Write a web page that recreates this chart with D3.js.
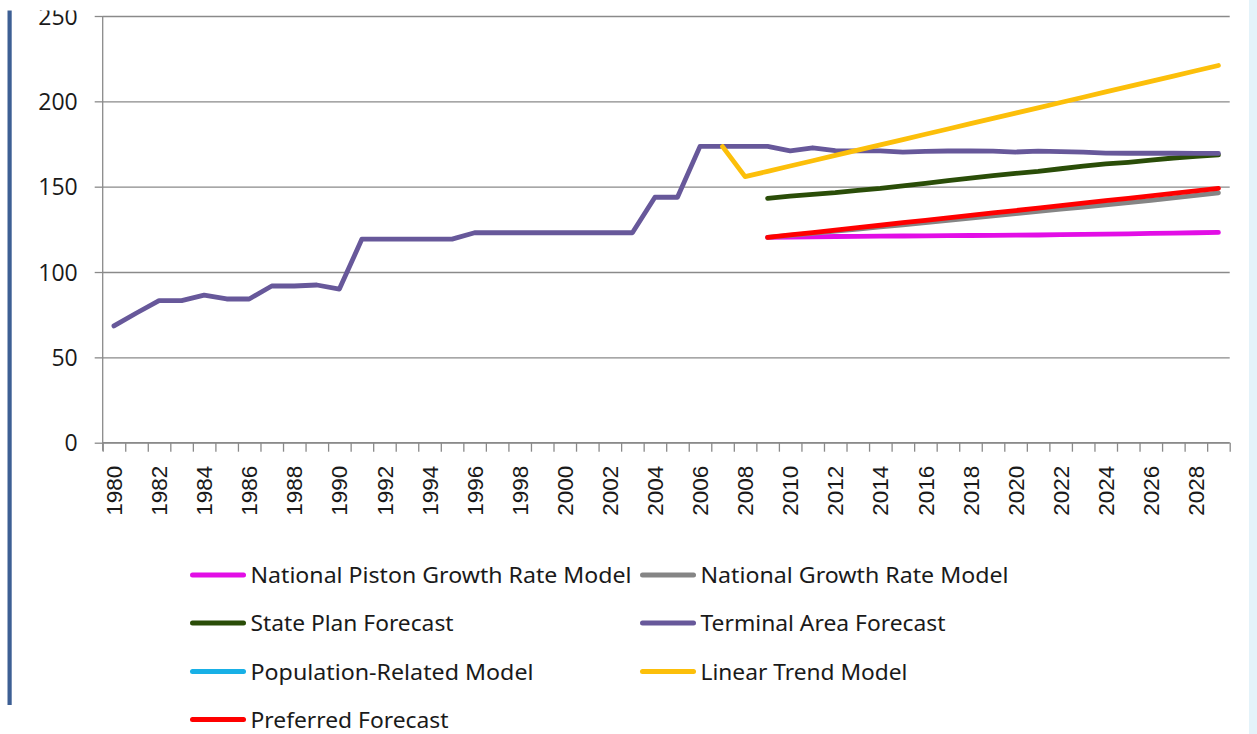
<!DOCTYPE html>
<html>
<head>
<meta charset="utf-8">
<script src="https://cdn.jsdelivr.net/npm/d3@7/dist/d3.min.js"></script>
<style>
  html, body { margin: 0; padding: 0; background: #ffffff; }
  svg { display: block; }
</style>
</head>
<body>
<svg id="chart" width="1257" height="734"></svg>
<script>
// ---------------- DATA ----------------
const years = d3.range(1980, 2030);            // category axis 1980..2029
const forecastYears = d3.range(2009, 2030);     // 2009..2029
const linearYears = d3.range(2007, 2030);       // 2007..2029
const yTicks = [0, 50, 100, 150, 200, 250];

const terminalArea = [68.4, 76, 83.2, 83.2, 86.5, 84.2, 84.2, 91.8, 91.8, 92.4,
  90, 119.3, 119.3, 119.3, 119.3, 119.3, 123, 123, 123, 123,
  123, 123, 123, 123, 143.8, 143.8, 173.6, 173.6, 173.6, 173.6,
  171, 172.8, 171.1, 171, 171, 170.3, 170.7, 170.9, 170.9, 170.8,
  170.3, 170.8, 170.5, 170.3, 169.7, 169.6, 169.6, 169.6, 169.5, 169.5];

const nationalPiston = [120.3, 120.5, 120.6, 120.8, 120.9, 121.0, 121.1, 121.2, 121.3, 121.4,
  121.5, 121.6, 121.7, 121.9, 122.0, 122.2, 122.4, 122.6, 122.8, 123.0, 123.2];

const nationalGrowth = [120.3, 121.5, 122.7, 124.0, 125.2, 126.4, 127.7, 129.0, 130.3, 131.6,
  132.9, 134.2, 135.5, 136.8, 138.1, 139.4, 140.7, 142.0, 143.4, 144.9, 146.4];

const statePlan = [143.2, 144.5, 145.5, 146.5, 147.8, 149.0, 150.5, 152.0, 153.5, 155.0,
  156.5, 157.8, 159.0, 160.5, 162.0, 163.3, 164.3, 165.5, 166.8, 167.8, 168.6];

const populationRelated = [];   // no visible line in the reference

const linearTrend = [173.5, 155.9, 159.0, 162.1, 165.2, 168.3, 171.4, 174.5, 177.6, 180.7,
  183.8, 186.9, 190.0, 193.1, 196.2, 199.3, 202.4, 205.5, 208.6, 211.7, 214.8, 217.9, 221.0];

const preferred = [120.3, 121.7, 123.1, 124.6, 126.0, 127.4, 128.9, 130.3, 131.7, 133.2,
  134.6, 136.0, 137.5, 138.9, 140.3, 141.8, 143.2, 144.6, 146.1, 147.5, 149.0];

const seriesNames = ["National Piston Growth Rate Model", "National Growth Rate Model",
  "State Plan Forecast", "Terminal Area Forecast", "Population-Related Model",
  "Linear Trend Model", "Preferred Forecast"];
const seriesColors = ["#e20ee6", "#858585", "#2a4d08", "#67589a", "#18b0e6", "#fcbf0a", "#ff0000"];
const seriesData = [
  [forecastYears, nationalPiston],
  [forecastYears, nationalGrowth],
  [forecastYears, statePlan],
  [years, terminalArea],
  [[], populationRelated],
  [linearYears, linearTrend],
  [forecastYears, preferred]
];

// ---------------- LAYOUT ----------------
const svg = d3.select("#chart");
const plotL = 102.7, plotR = 1229.7, plotT = 16, plotB = 442.7;

const x = d3.scaleBand().domain(years).range([plotL, plotR]).padding(0);
const xEdge = d3.scaleLinear().domain([0, years.length]).range([plotL, plotR]);
const y = d3.scaleLinear().domain([0, 250]).range([plotB, plotT]);
const cx = d => x(d) + x.bandwidth() / 2;

// decorations (slide borders)
svg.append("rect").attr("x", 1249).attr("y", 0).attr("width", 8).attr("height", 734).attr("fill", "#e4f3fa");
svg.append("rect").attr("x", 7.5).attr("y", 10).attr("width", 4.2).attr("height", 695).attr("fill", "#3d5f94");

// gridlines
svg.append("g")
  .attr("transform", `translate(${plotL},0)`)
  .call(d3.axisLeft(y).tickValues(yTicks).tickSize(-(plotR - plotL)).tickFormat(""))
  .call(g => g.select(".domain").remove())
  .call(g => g.selectAll("line").attr("stroke", "#8a8a8a").attr("stroke-width", 1.3));

// y axis with outward ticks + labels
svg.append("g")
  .attr("transform", `translate(${plotL},0)`)
  .call(d3.axisLeft(y).tickValues(yTicks).tickSize(8).tickPadding(17).tickFormat(d3.format("d")))
  .call(g => g.select(".domain").attr("stroke", "#8a8a8a").attr("stroke-width", 1.3).attr("d", `M0,${plotT}V${plotB + 8}`))
  .call(g => g.selectAll("line").attr("stroke", "#8a8a8a").attr("stroke-width", 1.3))
  .call(g => g.selectAll("text").attr("font-family", "'Open Sans', sans-serif").attr("font-size", 23).attr("fill", "#1a1a1a").attr("dy", "0.36em"));

// x axis: tick marks between categories
svg.append("g")
  .attr("transform", `translate(0,${plotB})`)
  .call(d3.axisBottom(xEdge).tickValues(d3.range(years.length + 1)).tickSize(9).tickFormat(""))
  .call(g => g.select(".domain").attr("stroke", "#8a8a8a").attr("stroke-width", 1.3).attr("d", `M${plotL},0H${plotR}`))
  .call(g => g.selectAll("line").attr("stroke", "#8a8a8a").attr("stroke-width", 1.3));

// x labels (every other year), rotated
svg.append("g").selectAll("text")
  .data(years.filter((d, i) => i % 2 === 0))
  .join("text")
  .attr("transform", d => `translate(${cx(d)},${plotB + 23}) rotate(-90)`)
  .attr("text-anchor", "end")
  .attr("dy", "0.36em")
  .attr("font-family", "'Liberation Sans', Arial, sans-serif")
  .attr("font-size", 22.5)
  .attr("fill", "#1a1a1a")
  .text(d => d);

// lines
const line = d3.line().x(d => cx(d[0])).y(d => y(d[1]));
const lineG = svg.append("g");
seriesData.forEach(([xs, vs], i) => {
  if (!vs.length) return;
  lineG.append("path")
    .datum(xs.map((yr, k) => [yr, vs[k]]))
    .attr("fill", "none")
    .attr("stroke", seriesColors[i])
    .attr("stroke-width", 4.8)
    .attr("stroke-linejoin", "round")
    .attr("stroke-linecap", "round")
    .attr("d", line);
});

// legend
const legendPos = [
  [191.5, 575, 381], [641.5, 575, 308],
  [191.5, 623, 203], [641.5, 623, 245],
  [191.5, 671.5, 283], [641.5, 671.5, 207],
  [191.5, 719.5, 198]
];
const leg = svg.append("g");
seriesNames.forEach((name, i) => {
  const [lx, ly, tl] = legendPos[i];
  leg.append("line")
    .attr("x1", lx + 1).attr("x2", lx + 52).attr("y1", ly).attr("y2", ly)
    .attr("stroke", seriesColors[i]).attr("stroke-width", 5).attr("stroke-linecap", "round");
  leg.append("text")
    .attr("x", lx + 59).attr("y", ly).attr("dy", "0.36em")
    .attr("font-family", "'Noto Sans', 'Open Sans', sans-serif")
    .attr("font-size", 22.5)
    .attr("fill", "#1a1a1a")
    .attr("textLength", tl)
    .attr("lengthAdjust", "spacingAndGlyphs")
    .text(name);
});

// top crop of the original slide
svg.append("rect").attr("x", 0).attr("y", 0).attr("width", 1249).attr("height", 10.5).attr("fill", "#ffffff");
</script>
</body>
</html>
